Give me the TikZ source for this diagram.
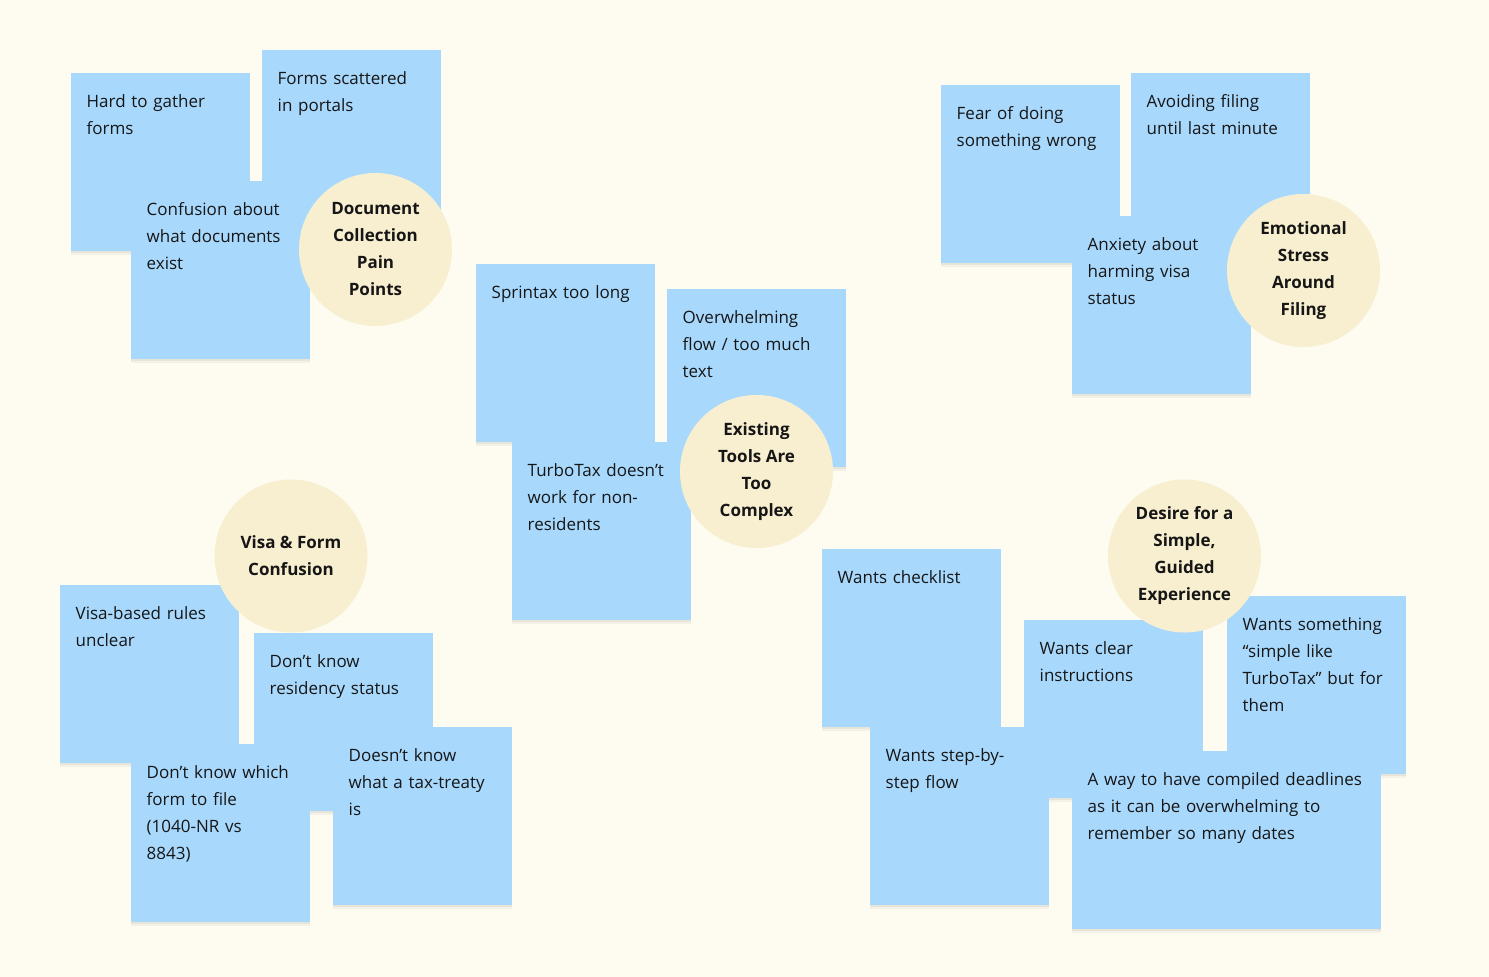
\documentclass[tikz,border=0pt]{standalone}
\usepackage{fontspec}
\setmainfont{Open Sans}
\definecolor{bg}{HTML}{FEFBF0}
\definecolor{stickyc}{HTML}{A8D9FD}
\definecolor{topicc}{HTML}{F8EFD0}
\definecolor{ink}{HTML}{161616}
\tikzset{
  note/.style={fill=stickyc, draw=none, inner sep=0pt, minimum width=179pt, minimum height=178pt, anchor=north west,
    preaction={fill=black, fill opacity=0.04, transform canvas={yshift=-4pt}},
    preaction={fill=black, fill opacity=0.05, transform canvas={yshift=-2pt}}},
  notetext/.style={anchor=base west, inner sep=0pt, text width=300pt, align=left, text=ink, font=\fontsize{17}{27}\selectfont},
  topic/.style={circle, fill=topicc, draw=none, minimum size=153pt, inner sep=0pt, align=center, text=ink, font=\bfseries\fontsize{17}{27}\selectfont},
}
\newcommand{\sticky}[5]{%
  \node[note,#5] (#1) at (#2,#3) {};
  \node[notetext] (#1-t) at ([shift={(15.5,34)}]#1.north west) {#4};
}
\begin{document}
\begin{tikzpicture}[x=1pt,y=-1pt]
\fill[bg] (0,0) rectangle (1489,977);
\useasboundingbox (0,0) rectangle (1489,977);
% group 1
\sticky{hard}{71}{73}{Hard to gather\\forms}{}
\sticky{forms}{262}{50}{Forms scattered\\in portals}{}
\sticky{conf}{131}{181}{Confusion about\\what documents\\exist}{}
\node[topic] (c1) at (375.5,249.5) {Document\\Collection\\Pain\\Points};
% group 2
\sticky{sprintax}{476}{264}{Sprintax too long}{}
\sticky{over}{667}{289}{Overwhelming\\flow / too much\\text}{}
\sticky{turbo}{512}{442}{TurboTax doesn’t\\work for non-\\residents}{}
\node[topic] (c2) at (756.5,471.5) {Existing\\Tools Are\\Too\\Complex};
% group 3
\sticky{fear}{941}{85}{Fear of doing\\something wrong}{}
\sticky{avoid}{1131}{73}{Avoiding filing\\until last minute}{}
\sticky{anx}{1072}{216}{Anxiety about\\harming visa\\status}{}
\node[topic] (c3) at (1303.5,270.5) {Emotional\\Stress\\Around\\Filing};
% group 4
\sticky{visa}{60}{585}{Visa-based rules\\unclear}{}
\sticky{resid}{254}{633}{Don’t know\\residency status}{}
\sticky{which}{131}{744}{Don’t know which\\form to file\\(1040-NR vs\\8843)}{}
\sticky{treaty}{333}{727}{Doesn’t know\\what a tax-treaty\\is}{}
\node[topic] (c4) at (291,556) {Visa \& Form\\Confusion};
% group 5
\sticky{check}{822}{549}{Wants checklist}{}
\sticky{clear}{1024}{620}{Wants clear\\instructions}{}
\sticky{simple}{1227}{596}{Wants something\\“simple like\\TurboTax” but for\\them}{}
\sticky{stepf}{870}{727}{Wants step-by-\\step flow}{}
\sticky{dead}{1072}{751}{A way to have compiled deadlines\\as it can be overwhelming to\\remember so many dates}{minimum width=309pt}
\node[topic] (c5) at (1184.5,556) {Desire for a\\Simple,\\Guided\\Experience};
\end{tikzpicture}
\end{document}
